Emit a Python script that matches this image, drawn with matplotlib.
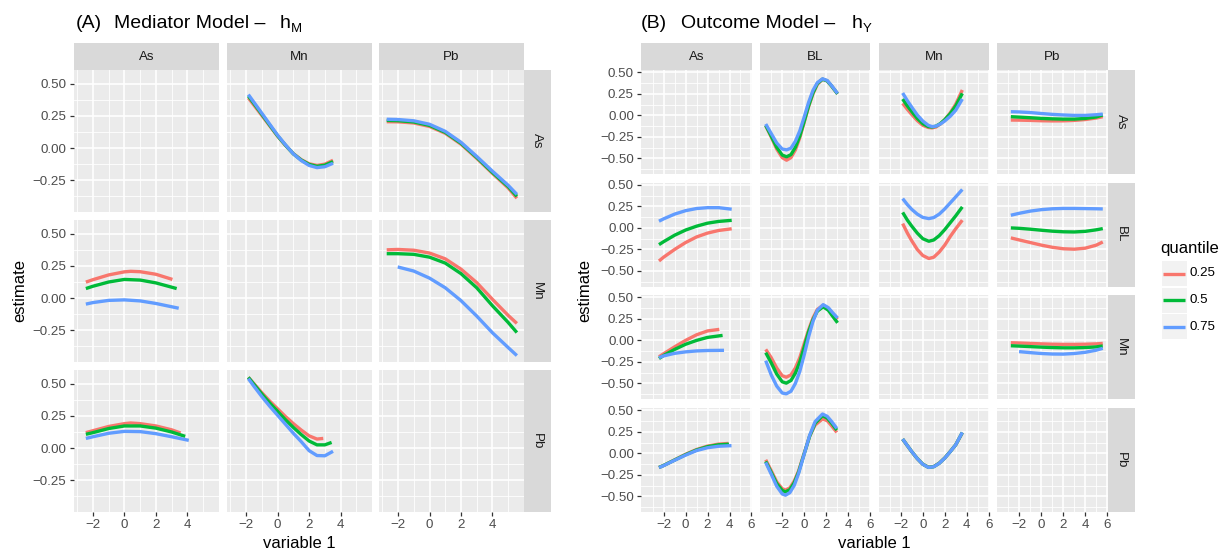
import matplotlib
matplotlib.use('Agg')
import matplotlib.pyplot as plt

plt.rcParams['font.family'] = ['Liberation Sans', 'DejaVu Sans']

# ---------------- categories ----------------
quantiles = ['0.25', '0.5', '0.75']
colors = ['#F8766D', '#00BA38', '#619CFF']
med_rows = ['As', 'Mn', 'Pb']
med_cols = ['As', 'Mn', 'Pb']
out_rows = ['As', 'BL', 'Mn', 'Pb']
out_cols = ['As', 'BL', 'Mn', 'Pb']
med_xticks = [-2, 0, 2, 4]
med_yticks = [-0.25, 0.0, 0.25, 0.50]
out_xticks = [-2, 0, 2, 4, 6]
out_yticks = [-0.50, -0.25, 0.0, 0.25, 0.50]

# ---------------- (A) Mediator model data (row_col) ----------------
med_As_Mn_x = [-1.86, -1.5, -1.0, -0.5, 0.0, 0.5, 1.0, 1.5, 2.0, 2.5, 3.0, 3.52]
med_As_Mn_q25 = [0.39, 0.333, 0.253, 0.172, 0.092, 0.02, -0.043, -0.09, -0.122, -0.135, -0.125, -0.095]
med_As_Mn_q50 = [0.405, 0.345, 0.262, 0.178, 0.095, 0.022, -0.045, -0.093, -0.127, -0.142, -0.133, -0.105]
med_As_Mn_q75 = [0.416, 0.355, 0.27, 0.185, 0.10, 0.025, -0.045, -0.097, -0.135, -0.152, -0.145, -0.118]

med_As_Pb_x = [-2.72, -2.0, -1.0, 0.0, 1.0, 2.0, 3.0, 4.0, 5.0, 5.55]
med_As_Pb_q25 = [0.205, 0.204, 0.195, 0.168, 0.115, 0.03, -0.08, -0.197, -0.31, -0.39]
med_As_Pb_q50 = [0.215, 0.213, 0.203, 0.176, 0.122, 0.037, -0.073, -0.19, -0.30, -0.375]
med_As_Pb_q75 = [0.224, 0.222, 0.212, 0.185, 0.13, 0.045, -0.065, -0.18, -0.29, -0.36]

med_Mn_As_x25 = [-2.45, -2.0, -1.0, 0.0, 0.4, 1.0, 2.0, 3.05]
med_Mn_As_q25 = [0.124, 0.143, 0.18, 0.204, 0.208, 0.205, 0.185, 0.145]
med_Mn_As_x50 = [-2.45, -2.0, -1.0, 0.0, 1.0, 2.0, 3.32]
med_Mn_As_q50 = [0.074, 0.092, 0.125, 0.145, 0.14, 0.118, 0.074]
med_Mn_As_x75 = [-2.45, -2.0, -1.0, 0.0, 1.0, 2.0, 3.45]
med_Mn_As_q75 = [-0.047, -0.035, -0.018, -0.014, -0.022, -0.042, -0.079]

med_Mn_Pb_x = [-2.72, -2.0, -1.0, 0.0, 1.0, 2.0, 3.0, 4.0, 5.0, 5.55]
med_Mn_Pb_q25 = [0.375, 0.378, 0.372, 0.35, 0.305, 0.225, 0.12, -0.01, -0.135, -0.197]
med_Mn_Pb_q50 = [0.345, 0.345, 0.34, 0.318, 0.272, 0.19, 0.08, -0.06, -0.19, -0.268]
med_Mn_Pb_x75 = [-2.02, -1.0, 0.0, 1.0, 2.0, 3.0, 4.0, 5.0, 5.55]
med_Mn_Pb_q75 = [0.242, 0.21, 0.155, 0.08, -0.02, -0.14, -0.27, -0.385, -0.447]

med_Pb_As_x25 = [-2.45, -2.0, -1.0, 0.0, 0.4, 1.0, 2.0, 3.0, 3.57]
med_Pb_As_q25 = [0.12, 0.135, 0.168, 0.19, 0.195, 0.19, 0.172, 0.142, 0.117]
med_Pb_As_x50 = [-2.45, -2.0, -1.0, 0.0, 1.0, 2.0, 3.0, 3.86]
med_Pb_As_q50 = [0.107, 0.12, 0.152, 0.172, 0.172, 0.155, 0.125, 0.091]
med_Pb_As_x75 = [-2.45, -2.0, -1.0, 0.0, 1.0, 2.0, 3.0, 4.09]
med_Pb_As_q75 = [0.075, 0.088, 0.115, 0.13, 0.128, 0.112, 0.088, 0.06]

med_Pb_Mn_x25 = [-1.86, -1.5, -1.0, -0.5, 0.0, 0.5, 1.0, 1.5, 2.0, 2.5, 2.9]
med_Pb_Mn_q25 = [0.55, 0.5, 0.43, 0.365, 0.305, 0.245, 0.19, 0.14, 0.095, 0.07, 0.075]
med_Pb_Mn_x50 = [-1.86, -1.5, -1.0, -0.5, 0.0, 0.5, 1.0, 1.5, 2.0, 2.5, 3.0, 3.43]
med_Pb_Mn_q50 = [0.55, 0.495, 0.42, 0.35, 0.285, 0.22, 0.16, 0.105, 0.055, 0.025, 0.025, 0.044]
med_Pb_Mn_x75 = [-1.86, -1.5, -1.0, -0.5, 0.0, 0.5, 1.0, 1.5, 2.0, 2.5, 3.0, 3.52]
med_Pb_Mn_q75 = [0.54, 0.48, 0.4, 0.325, 0.255, 0.185, 0.115, 0.05, -0.02, -0.058, -0.06, -0.025]

# ---------------- (B) Outcome model data (row_col) ----------------
out_As_BL_x = [-3.5, -3.0, -2.5, -2.0, -1.6, -1.2, -0.8, -0.4, 0.0, 0.4, 0.8, 1.2, 1.67, 2.1, 2.5, 3.04]
out_As_BL_q25 = [-0.12, -0.25, -0.39, -0.49, -0.52, -0.49, -0.4, -0.26, -0.08, 0.1, 0.25, 0.36, 0.42, 0.4, 0.34, 0.25]
out_As_BL_q50 = [-0.115, -0.24, -0.37, -0.46, -0.48, -0.455, -0.37, -0.24, -0.07, 0.11, 0.26, 0.37, 0.42, 0.4, 0.34, 0.25]
out_As_BL_q75 = [-0.10, -0.21, -0.32, -0.39, -0.40, -0.38, -0.30, -0.18, -0.02, 0.15, 0.29, 0.38, 0.425, 0.405, 0.345, 0.255]

out_As_Mn_x = [-1.83, -1.4, -1.0, -0.5, 0.0, 0.5, 0.85, 1.2, 1.6, 2.0, 2.5, 3.0, 3.6]
out_As_Mn_q25 = [0.14, 0.07, 0.01, -0.06, -0.115, -0.14, -0.145, -0.135, -0.1, -0.05, 0.03, 0.13, 0.295]
out_As_Mn_q50 = [0.19, 0.11, 0.045, -0.035, -0.095, -0.13, -0.135, -0.125, -0.095, -0.05, 0.02, 0.11, 0.256]
out_As_Mn_q75 = [0.26, 0.17, 0.095, 0.005, -0.065, -0.115, -0.13, -0.125, -0.1, -0.065, -0.01, 0.06, 0.19]

out_As_Pb_x = [-2.78, -2.0, -1.0, 0.0, 1.0, 2.0, 3.0, 4.0, 5.0, 5.59]
out_As_Pb_q25 = [-0.054, -0.055, -0.058, -0.062, -0.064, -0.063, -0.058, -0.048, -0.03, -0.015]
out_As_Pb_q50 = [-0.015, -0.02, -0.027, -0.035, -0.04, -0.043, -0.043, -0.035, -0.018, 0.005]
out_As_Pb_q75 = [0.043, 0.04, 0.033, 0.022, 0.012, 0.005, 0.0, 0.0, 0.008, 0.015]

out_BL_As_x = [-2.42, -2.0, -1.0, 0.0, 1.0, 2.0, 3.0, 4.2]
out_BL_As_q25 = [-0.384, -0.34, -0.25, -0.17, -0.105, -0.06, -0.03, -0.01]
out_BL_As_q50 = [-0.194, -0.16, -0.085, -0.025, 0.02, 0.055, 0.075, 0.088]
out_BL_As_q75 = [0.078, 0.105, 0.16, 0.2, 0.225, 0.235, 0.235, 0.217]

out_BL_Mn_x = [-1.83, -1.4, -1.0, -0.5, 0.0, 0.55, 1.0, 1.5, 2.0, 2.5, 3.0, 3.6]
out_BL_Mn_q25 = [0.05, -0.06, -0.15, -0.25, -0.32, -0.355, -0.34, -0.28, -0.2, -0.1, -0.01, 0.09]
out_BL_Mn_q50 = [0.18, 0.09, 0.02, -0.06, -0.125, -0.155, -0.14, -0.09, -0.02, 0.06, 0.14, 0.244]
out_BL_Mn_q75 = [0.34, 0.27, 0.215, 0.16, 0.122, 0.108, 0.12, 0.16, 0.22, 0.29, 0.36, 0.446]

out_BL_Pb_x = [-2.78, -2.0, -1.0, 0.0, 1.0, 2.0, 3.0, 4.0, 5.0, 5.59]
out_BL_Pb_q25 = [-0.116, -0.14, -0.17, -0.2, -0.225, -0.242, -0.247, -0.235, -0.2, -0.163]
out_BL_Pb_q50 = [0.0, -0.005, -0.015, -0.027, -0.038, -0.045, -0.047, -0.04, -0.022, -0.008]
out_BL_Pb_q75 = [0.147, 0.17, 0.195, 0.212, 0.222, 0.226, 0.226, 0.224, 0.222, 0.22]

out_Mn_As_x25 = [-2.42, -2.0, -1.0, 0.0, 1.0, 2.0, 3.07]
out_Mn_As_q25 = [-0.19, -0.155, -0.075, 0.0, 0.065, 0.11, 0.128]
out_Mn_As_x50 = [-2.42, -2.0, -1.0, 0.0, 1.0, 2.0, 3.37]
out_Mn_As_q50 = [-0.21, -0.175, -0.105, -0.045, 0.0, 0.035, 0.058]
out_Mn_As_x75 = [-2.42, -2.0, -1.0, 0.0, 1.0, 2.0, 3.5]
out_Mn_As_q75 = [-0.2, -0.18, -0.15, -0.133, -0.122, -0.117, -0.115]

out_Mn_BL_x = [-3.5, -3.0, -2.5, -2.0, -1.63, -1.2, -0.8, -0.4, 0.0, 0.4, 0.8, 1.2, 1.73, 2.2, 2.6, 3.04]
out_Mn_BL_q25 = [-0.104, -0.2, -0.32, -0.41, -0.427, -0.4, -0.32, -0.2, -0.04, 0.12, 0.26, 0.36, 0.408, 0.37, 0.31, 0.246]
out_Mn_BL_q50 = [-0.142, -0.26, -0.39, -0.48, -0.496, -0.465, -0.38, -0.25, -0.08, 0.1, 0.24, 0.34, 0.39, 0.35, 0.28, 0.204]
out_Mn_BL_q75 = [-0.235, -0.4, -0.53, -0.61, -0.62, -0.59, -0.5, -0.36, -0.17, 0.04, 0.22, 0.35, 0.415, 0.38, 0.32, 0.26]

out_Mn_Pb_x = [-2.78, -2.0, -1.0, 0.0, 1.0, 2.0, 3.0, 4.0, 5.0, 5.59]
out_Mn_Pb_q25 = [-0.027, -0.03, -0.035, -0.04, -0.044, -0.046, -0.046, -0.044, -0.04, -0.035]
out_Mn_Pb_q50 = [-0.062, -0.066, -0.072, -0.078, -0.083, -0.086, -0.086, -0.083, -0.075, -0.065]
out_Mn_Pb_x75 = [-2.03, -1.0, 0.0, 1.0, 2.0, 3.0, 4.0, 5.0, 5.59]
out_Mn_Pb_q75 = [-0.13, -0.142, -0.152, -0.158, -0.159, -0.152, -0.138, -0.113, -0.092]

out_Pb_As_x25 = [-2.42, -2.0, -1.0, 0.0, 1.0, 2.0, 3.0, 3.9]
out_Pb_As_q25 = [-0.163, -0.14, -0.075, -0.01, 0.045, 0.085, 0.108, 0.116]
out_Pb_As_x50 = [-2.42, -2.0, -1.0, 0.0, 1.0, 2.0, 3.0, 3.95]
out_Pb_As_q50 = [-0.163, -0.14, -0.077, -0.015, 0.04, 0.078, 0.1, 0.107]
out_Pb_As_x75 = [-2.42, -2.0, -1.0, 0.0, 1.0, 2.0, 3.0, 4.18]
out_Pb_As_q75 = [-0.165, -0.142, -0.08, -0.02, 0.033, 0.066, 0.083, 0.09]

out_Pb_BL_x = [-3.5, -3.0, -2.5, -2.0, -1.7, -1.3, -0.9, -0.5, 0.0, 0.5, 1.0, 1.67, 2.1, 2.5, 2.97]
out_Pb_BL_q25 = [-0.074, -0.2, -0.33, -0.41, -0.426, -0.4, -0.32, -0.2, 0.0, 0.2, 0.33, 0.40, 0.38, 0.32, 0.244]
out_Pb_BL_q50 = [-0.093, -0.22, -0.35, -0.43, -0.446, -0.42, -0.34, -0.215, -0.005, 0.2, 0.35, 0.438, 0.41, 0.35, 0.27]
out_Pb_BL_q75 = [-0.105, -0.24, -0.38, -0.47, -0.485, -0.455, -0.37, -0.23, -0.01, 0.21, 0.37, 0.457, 0.43, 0.37, 0.29]

out_Pb_Mn_x = [-1.83, -1.4, -1.0, -0.5, 0.0, 0.52, 1.0, 1.5, 2.0, 2.5, 3.0, 3.6]
out_Pb_Mn_q25 = [0.165, 0.09, 0.02, -0.06, -0.125, -0.16, -0.152, -0.113, -0.053, 0.022, 0.1, 0.24]
out_Pb_Mn_q50 = [0.166, 0.09, 0.02, -0.06, -0.125, -0.162, -0.154, -0.114, -0.054, 0.021, 0.1, 0.242]
out_Pb_Mn_q75 = [0.167, 0.09, 0.02, -0.06, -0.126, -0.163, -0.155, -0.115, -0.055, 0.02, 0.1, 0.244]

# ---------------- panel tables ----------------
med_panels = {
    ('As', 'Mn'): [(med_As_Mn_x, med_As_Mn_q25), (med_As_Mn_x, med_As_Mn_q50), (med_As_Mn_x, med_As_Mn_q75)],
    ('As', 'Pb'): [(med_As_Pb_x, med_As_Pb_q25), (med_As_Pb_x, med_As_Pb_q50), (med_As_Pb_x, med_As_Pb_q75)],
    ('Mn', 'As'): [(med_Mn_As_x25, med_Mn_As_q25), (med_Mn_As_x50, med_Mn_As_q50), (med_Mn_As_x75, med_Mn_As_q75)],
    ('Mn', 'Pb'): [(med_Mn_Pb_x, med_Mn_Pb_q25), (med_Mn_Pb_x, med_Mn_Pb_q50), (med_Mn_Pb_x75, med_Mn_Pb_q75)],
    ('Pb', 'As'): [(med_Pb_As_x25, med_Pb_As_q25), (med_Pb_As_x50, med_Pb_As_q50), (med_Pb_As_x75, med_Pb_As_q75)],
    ('Pb', 'Mn'): [(med_Pb_Mn_x25, med_Pb_Mn_q25), (med_Pb_Mn_x50, med_Pb_Mn_q50), (med_Pb_Mn_x75, med_Pb_Mn_q75)],
}
out_panels = {
    ('As', 'BL'): [(out_As_BL_x, out_As_BL_q25), (out_As_BL_x, out_As_BL_q50), (out_As_BL_x, out_As_BL_q75)],
    ('As', 'Mn'): [(out_As_Mn_x, out_As_Mn_q25), (out_As_Mn_x, out_As_Mn_q50), (out_As_Mn_x, out_As_Mn_q75)],
    ('As', 'Pb'): [(out_As_Pb_x, out_As_Pb_q25), (out_As_Pb_x, out_As_Pb_q50), (out_As_Pb_x, out_As_Pb_q75)],
    ('BL', 'As'): [(out_BL_As_x, out_BL_As_q25), (out_BL_As_x, out_BL_As_q50), (out_BL_As_x, out_BL_As_q75)],
    ('BL', 'Mn'): [(out_BL_Mn_x, out_BL_Mn_q25), (out_BL_Mn_x, out_BL_Mn_q50), (out_BL_Mn_x, out_BL_Mn_q75)],
    ('BL', 'Pb'): [(out_BL_Pb_x, out_BL_Pb_q25), (out_BL_Pb_x, out_BL_Pb_q50), (out_BL_Pb_x, out_BL_Pb_q75)],
    ('Mn', 'As'): [(out_Mn_As_x25, out_Mn_As_q25), (out_Mn_As_x50, out_Mn_As_q50), (out_Mn_As_x75, out_Mn_As_q75)],
    ('Mn', 'BL'): [(out_Mn_BL_x, out_Mn_BL_q25), (out_Mn_BL_x, out_Mn_BL_q50), (out_Mn_BL_x, out_Mn_BL_q75)],
    ('Mn', 'Pb'): [(out_Mn_Pb_x, out_Mn_Pb_q25), (out_Mn_Pb_x, out_Mn_Pb_q50), (out_Mn_Pb_x75, out_Mn_Pb_q75)],
    ('Pb', 'As'): [(out_Pb_As_x25, out_Pb_As_q25), (out_Pb_As_x50, out_Pb_As_q50), (out_Pb_As_x75, out_Pb_As_q75)],
    ('Pb', 'BL'): [(out_Pb_BL_x, out_Pb_BL_q25), (out_Pb_BL_x, out_Pb_BL_q50), (out_Pb_BL_x, out_Pb_BL_q75)],
    ('Pb', 'Mn'): [(out_Pb_Mn_x, out_Pb_Mn_q25), (out_Pb_Mn_x, out_Pb_Mn_q50), (out_Pb_Mn_x, out_Pb_Mn_q75)],
}

# ---------------- drawing ----------------
W, H = 1225, 554
fig = plt.figure(figsize=(W / 100, H / 100), dpi=100)
fig.patch.set_facecolor('white')

TICK_FS = 9.6
STRIP_FS = 9.6
AXT_FS = 12
LW = 2.4


def pax(l, t, w, h):
    return fig.add_axes([l / W, 1 - (t + h) / H, w / W, h / H])


def mfmt(v, fmt):
    return (fmt % v).replace('-', '\u2212')


def midpoints(ticks, lo, hi):
    step = ticks[1] - ticks[0]
    ext = [ticks[0] - step] + list(ticks) + [ticks[-1] + step]
    mids = [(a + b) / 2 for a, b in zip(ext[:-1], ext[1:])]
    return [m for m in mids if lo <= m <= hi]


def strip(l, t, w, h, label, rot=0):
    s = pax(l, t, w, h)
    s.set_facecolor('#D9D9D9')
    s.set_xticks([]); s.set_yticks([])
    for sp in s.spines.values():
        sp.set_visible(False)
    s.text(0.5, 0.5, label, ha='center', va='center', rotation=rot,
           fontsize=STRIP_FS, color='#1A1A1A', transform=s.transAxes)


def facet_grid(rows, cols, panels, col_l, pw, row_t, ph, xlim, ylim,
               xticks, yticks, xfmt, yfmt, strip_w):
    xminor = midpoints(xticks, *xlim)
    yminor = midpoints(yticks, *ylim)
    for i, r in enumerate(rows):
        for j, c in enumerate(cols):
            ax = pax(col_l[j], row_t[i], pw, ph)
            ax.set_facecolor('#EBEBEB')
            for sp in ax.spines.values():
                sp.set_visible(False)
            ax.set_xlim(xlim); ax.set_ylim(ylim)
            ax.set_xticks(xticks); ax.set_yticks(yticks)
            ax.set_xticks(xminor, minor=True); ax.set_yticks(yminor, minor=True)
            ax.grid(which='major', color='white', lw=1.2)
            ax.grid(which='minor', color='white', lw=0.6)
            ax.set_axisbelow(True)
            ax.tick_params(which='minor', length=0)
            ax.tick_params(which='major', color='#333333', length=3.0, width=0.9,
                           labelsize=TICK_FS, labelcolor='#4D4D4D', pad=2.4)
            if i == len(rows) - 1:
                ax.set_xticklabels([mfmt(v, xfmt) for v in xticks])
            else:
                ax.tick_params(axis='x', length=0, labelbottom=False)
            if j == 0:
                ax.set_yticklabels([mfmt(v, yfmt) for v in yticks])
            else:
                ax.tick_params(axis='y', length=0, labelleft=False)
            for k, (x, y) in enumerate(panels.get((r, c), [])):
                ax.plot(x, y, color=colors[k], lw=LW, solid_capstyle='butt',
                        solid_joinstyle='round')
    for j, c in enumerate(cols):
        strip(col_l[j], 43, pw, 27, c)
    for i, r in enumerate(rows):
        strip(col_l[-1] + pw, row_t[i], strip_w, ph, r, rot=-90)


# (A) Mediator model
facet_grid(med_rows, med_cols, med_panels,
           [73.9, 227.1, 379.0], 144.8, [70, 220, 370], 142,
           (-3.21, 5.99), (-0.497, 0.607),
           med_xticks, med_yticks, '%g', '%.2f', 27)

# (B) Outcome model
facet_grid(out_rows, out_cols, out_panels,
           [641.4, 760.0, 878.6, 997.2], 110.3, [70, 182.5, 295, 408], 104,
           (-4.02, 6.02), (-0.68, 0.527),
           out_xticks, out_yticks, '%g', '%.2f', 27)

# titles
TITLE_FS = 14
SUB_FS = 9.5
TB = 1 - 28.5 / H
SB = 1 - 31.5 / H
fig.text(76 / W, TB, '(A)', fontsize=TITLE_FS, va='baseline', ha='left')
fig.text(113.6 / W, TB, 'Mediator Model \u2013', fontsize=TITLE_FS, va='baseline', ha='left')
fig.text(280 / W, TB, 'h', fontsize=TITLE_FS, va='baseline', ha='left')
fig.text(291 / W, SB, 'M', fontsize=SUB_FS, va='baseline', ha='left')

fig.text(641 / W, TB, '(B)', fontsize=TITLE_FS, va='baseline', ha='left')
fig.text(680.8 / W, TB, 'Outcome Model \u2013', fontsize=TITLE_FS, va='baseline', ha='left')
fig.text(851.5 / W, TB, 'h', fontsize=TITLE_FS, va='baseline', ha='left')
fig.text(862.3 / W, SB, 'Y', fontsize=SUB_FS, va='baseline', ha='left')

# axis titles
fig.text(19.5 / W, 1 - 290.5 / H, 'estimate', rotation=90, ha='center', va='center', fontsize=AXT_FS)
fig.text(299 / W, 1 - 544 / H, 'variable 1', ha='center', va='center', fontsize=AXT_FS)
fig.text(584.5 / W, 1 - 290.5 / H, 'estimate', rotation=90, ha='center', va='center', fontsize=AXT_FS)
fig.text(874.5 / W, 1 - 544 / H, 'variable 1', ha='center', va='center', fontsize=AXT_FS)

# legend
fig.text(1160.7 / W, 1 - 249 / H, 'quantile', fontsize=12, va='center', ha='left')
key_tops = [261, 287.5, 314]
for k, q in enumerate(quantiles):
    kax = pax(1161.7, key_tops[k], 25, 25)
    kax.set_facecolor('#F2F2F2')
    kax.set_xticks([]); kax.set_yticks([])
    for sp in kax.spines.values():
        sp.set_visible(False)
    kax.set_xlim(0, 1); kax.set_ylim(0, 1)
    kax.plot([0.07, 0.93], [0.5, 0.5], color=colors[k], lw=LW, solid_capstyle='butt')
    fig.text(1190 / W, 1 - (key_tops[k] + 12.5) / H, q, fontsize=TICK_FS,
             va='center', ha='left')

fig.savefig('out.png', dpi=100)
